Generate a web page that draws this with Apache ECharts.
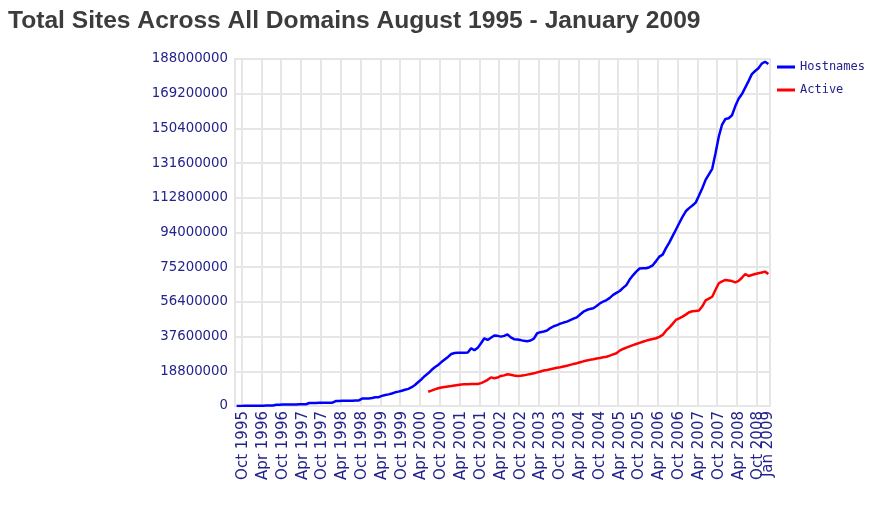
<!DOCTYPE html>
<html lang="en">
    <head>
        <meta charset="utf-8">
        <title>Total Sites Across All Domains</title>
        <script src="https://cdn.jsdelivr.net/npm/echarts@6.0.0/dist/echarts.min.js"></script>
        <style>
            html, body { margin: 0; padding: 0; background: #fff; }
            #main { width: 881px; height: 519px; }
        </style>
    </head>
    <body>
        <div id="main"></div>

        <script type="text/javascript">
            // months from Aug 1995 to Jan 2009
            const monthNames = ['Jan', 'Feb', 'Mar', 'Apr', 'May', 'Jun', 'Jul', 'Aug', 'Sep', 'Oct', 'Nov', 'Dec'];
            let months = [];
            for (let y = 1995, m = 7; y < 2009 || m === 0; ) {
                months.push(monthNames[m] + ' ' + y);
                if (y === 2009) break;
                m++;
                if (m === 12) { m = 0; y++; }
            }

            // y axis ticks (millions)
            const yMax = 188;
            const yStep = 18.8;

            // Hostnames, millions, one value per month from Aug 1995
            const hostnames = [
                0.02, 0.05, 0.07, 0.1, 0.1, 0.12, 0.15, 0.2, 0.2, 0.25, 0.25, 0.3,
                0.7, 0.7, 0.75, 0.8, 0.8, 0.8, 0.85, 0.9, 0.9, 0.95, 1.6, 1.6,
                1.6, 1.7, 1.7, 1.7, 1.8, 1.8, 2.7, 2.7, 2.8, 2.8, 2.9, 2.9,
                3.0, 3.0, 4.0, 4.0, 4.1, 4.3, 4.7, 4.8, 5.5, 6.0, 6.3, 6.8,
                7.4, 7.8, 8.3, 8.8, 9.3, 10.2, 11.4, 13.0, 14.5, 16.3, 17.7, 19.5,
                21.0, 22.2, 23.8, 25.2, 26.6, 28.2, 28.7, 28.8, 28.9, 28.9, 29.0, 31.3,
                30.2, 31.5, 34.0, 36.7, 35.8, 37.0, 38.2, 38.0, 37.6, 38.0, 38.8, 37.2,
                36.2, 36.0, 35.7, 35.3, 35.1, 35.5, 36.5, 39.4, 40.0, 40.4, 40.9, 42.2,
                43.2, 43.8, 44.6, 45.2, 45.7, 46.5, 47.3, 48.0, 49.6, 51.1, 52.0, 52.6,
                53.0, 54.2, 55.6, 56.6, 57.4, 58.6, 60.2, 61.3, 62.3, 64.0, 65.5, 68.5,
                70.8, 72.8, 74.5, 74.6, 74.6, 75.2, 76.2, 78.5, 80.9, 82.0, 85.5, 88.5,
                92.0, 95.5, 99.0, 102.5, 105.5, 107.2, 108.6, 110.2, 114.0, 118.0, 122.5, 125.5,
                128.5, 137.0, 146.0, 152.5, 155.5, 155.9, 157.5, 162.5, 166.5, 169.0, 172.5, 176.0,
                179.8, 181.5, 183.0, 185.5, 186.5, 185.3
            ];

            // Active, millions, starts Jun 2000
            const activeStart = 'Jun 2000';
            const active = [
                7.7, 8.3,
                9.0, 9.6, 10.0, 10.3, 10.6, 10.8, 11.1, 11.4, 11.7, 11.8, 11.8, 11.9,
                11.9, 11.9, 12.4, 13.2, 14.2, 15.5, 15.0, 15.4, 16.3, 16.6, 17.2, 16.9,
                16.5, 16.3, 16.4, 16.6, 17.0, 17.3, 17.7, 18.2, 18.7, 19.2, 19.5, 19.9,
                20.3, 20.7, 21.0, 21.4, 21.8, 22.3, 22.8, 23.2, 23.7, 24.2, 24.6, 25.0,
                25.3, 25.7, 26.0, 26.4, 26.7, 27.3, 28.0, 28.6, 30.0, 30.9, 31.6, 32.3,
                33.0, 33.6, 34.2, 34.8, 35.4, 35.9, 36.3, 36.7, 37.5, 38.5, 40.8, 42.5,
                44.5, 46.6, 47.5, 48.4, 49.5, 50.8, 51.3, 51.5, 51.7, 54.0, 57.2, 58.2,
                59.2, 63.0, 66.5, 67.5, 68.3, 68.0, 67.7, 67.0, 67.8, 69.5, 71.5, 70.4,
                71.0, 71.5, 71.9, 72.3, 72.8, 71.5
            ];

            // pad Active with nulls before it starts
            let activeData = [];
            let offset = months.indexOf(activeStart);
            months.forEach((r, i) => {
                activeData.push(i < offset ? null : active[i - offset]);
            });

            // labels & vertical grid lines on Oct / Apr
            function isHalfYear(index, value) {
                let name = months[index] || value;
                return name.indexOf('Oct') === 0 || name.indexOf('Apr') === 0;
            }
            // the last month gets its own label (second axis, so it isn't hidden by overlap)
            function isLast(index) {
                return index === months.length - 1;
            }

            const labelColor = '#23238c';
            const gridColor = '#e6e6e6';

            const xLabel = {
                hideOverlap: false,
                rotate: 90,
                margin: 5,
                fontFamily: 'DejaVu Sans',
                fontSize: 15,
                color: labelColor
            };

            let Chart = echarts.init(document.getElementById('main'));

            let option = {
                animation: false,
                title: {
                    text: 'Total Sites Across All Domains August 1995 - January 2009',
                    left: 8,
                    top: 9,
                    padding: 0,
                    textStyle: {
                        fontFamily: 'Liberation Sans',
                        fontSize: 24.6,
                        fontWeight: 'bold',
                        color: '#3c3c3c'
                    }
                },
                legend: {
                    data: ['Hostnames', 'Active'],
                    orient: 'vertical',
                    left: 777,
                    top: 60,
                    padding: 0,
                    icon: 'rect',
                    itemWidth: 18,
                    itemHeight: 3,
                    itemGap: 9,
                    textStyle: {
                        fontFamily: 'DejaVu Sans Mono',
                        fontSize: 12,
                        lineHeight: 14,
                        color: labelColor
                    }
                },
                grid: {
                    left: 235,
                    right: 111,
                    top: 59,
                    bottom: 113,
                    show: true,
                    borderColor: gridColor,
                    borderWidth: 2
                },
                xAxis: [
                    {
                        type: 'category',
                        data: months,
                        boundaryGap: true,
                        axisLine: { show: false },
                        axisTick: { show: false },
                        axisLabel: Object.assign({ interval: isHalfYear }, xLabel),
                        splitLine: {
                            show: true,
                            interval: isHalfYear,
                            lineStyle: { color: gridColor, width: 2 }
                        }
                    },
                    {
                        type: 'category',
                        data: months,
                        position: 'bottom',
                        offset: 0,
                        boundaryGap: true,
                        axisLine: { show: false },
                        axisTick: { show: false },
                        axisLabel: Object.assign({ interval: isLast }, xLabel),
                        splitLine: {
                            show: true,
                            interval: isLast,
                            lineStyle: { color: gridColor, width: 2 }
                        }
                    }
                ],
                yAxis: {
                    type: 'value',
                    min: 0,
                    max: yMax,
                    interval: yStep,
                    axisLine: { show: false },
                    axisTick: { show: false },
                    axisLabel: {
                        margin: 7,
                        fontFamily: 'DejaVu Sans',
                        fontSize: 13.3,
                        color: labelColor,
                        formatter: (v) => String(Math.round(v * 1000000))
                    },
                    splitLine: {
                        lineStyle: { color: gridColor, width: 2 }
                    }
                },
                series: [
                    {
                        name: 'Hostnames',
                        type: 'line',
                        data: hostnames,
                        showSymbol: false,
                        symbol: 'none',
                        color: '#0000ff',
                        lineStyle: { color: '#0000ff', width: 2.5 }
                    },
                    {
                        name: 'Active',
                        type: 'line',
                        data: activeData,
                        showSymbol: false,
                        symbol: 'none',
                        color: '#ff0000',
                        lineStyle: { color: '#ff0000', width: 2.5 }
                    }
                ]
            };

            Chart.setOption(option);
        </script>
    </body>
</html>
